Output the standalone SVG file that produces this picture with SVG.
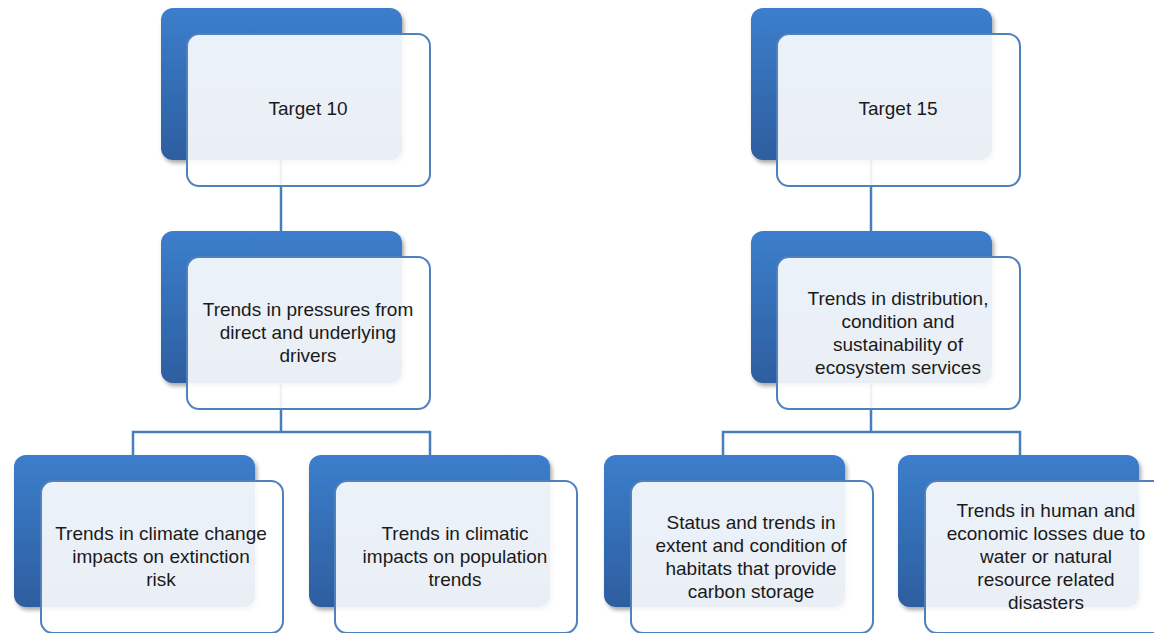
<svg xmlns="http://www.w3.org/2000/svg" width="1154" height="633" viewBox="0 0 1154 633">
<defs>
<linearGradient id="g" x1="0" y1="0" x2="0" y2="1">
<stop offset="0" stop-color="#3C7ECC"/>
<stop offset="1" stop-color="#2D5E9F"/>
</linearGradient>
<filter id="sh" x="-10%" y="-10%" width="125%" height="125%">
<feGaussianBlur in="SourceAlpha" stdDeviation="2"/>
<feOffset dx="2" dy="3"/>
<feComponentTransfer><feFuncA type="linear" slope="0.35"/></feComponentTransfer>
<feMerge><feMergeNode/><feMergeNode in="SourceGraphic"/></feMerge>
</filter>
</defs>
<style>
.back{fill:url(#g);filter:url(#sh)}
.front{fill:#ffffff;fill-opacity:0.9;stroke:#4F81BD;stroke-width:2}
.conn{fill:none;stroke:#4A7EBB;stroke-width:2.5}
text{font-family:"Liberation Sans",Arial,sans-serif;font-size:19px;fill:#1a1a1a;text-anchor:middle}
</style>
<rect width="1154" height="633" fill="#ffffff"/>
<g id="connectors">
<path class="conn" d="M281,160 V432 M133,455 V432 H430 V455"/>
<path class="conn" d="M871,160 V432 M723,455 V432 H1020 V455"/>
</g>
<g id="t10">
<rect class="back" x="161" y="8" width="241" height="152" rx="12"/>
<rect class="front" x="187" y="34" width="243" height="152" rx="12"/>
<text x="308" y="115">Target 10</text>
</g>
<g id="t15">
<rect class="back" x="751" y="8" width="241" height="152" rx="12"/>
<rect class="front" x="777" y="34" width="243" height="152" rx="12"/>
<text x="898" y="115">Target 15</text>
</g>
<g id="pressures">
<rect class="back" x="161" y="231" width="241" height="152" rx="12"/>
<rect class="front" x="187" y="257" width="243" height="152" rx="12"/>
<text x="308" y="316">Trends in pressures from</text>
<text x="308" y="339">direct and underlying</text>
<text x="308" y="362">drivers</text>
</g>
<g id="ecosystem">
<rect class="back" x="751" y="231" width="241" height="152" rx="12"/>
<rect class="front" x="777" y="257" width="243" height="152" rx="12"/>
<text x="898" y="305">Trends in distribution,</text>
<text x="898" y="328">condition and</text>
<text x="898" y="351">sustainability of</text>
<text x="898" y="374">ecosystem services</text>
</g>
<g id="climate">
<rect class="back" x="14" y="455" width="241" height="152" rx="12"/>
<rect class="front" x="41" y="481" width="242" height="152" rx="12"/>
<text x="161" y="540">Trends in climate change</text>
<text x="161" y="563">impacts on extinction</text>
<text x="161" y="586">risk</text>
</g>
<g id="population">
<rect class="back" x="309" y="455" width="241" height="152" rx="12"/>
<rect class="front" x="335" y="481" width="242" height="152" rx="12"/>
<text x="455" y="540">Trends in climatic</text>
<text x="455" y="563">impacts on population</text>
<text x="455" y="586">trends</text>
</g>
<g id="carbon">
<rect class="back" x="604" y="455" width="241" height="152" rx="12"/>
<rect class="front" x="631" y="481" width="242" height="152" rx="12"/>
<text x="751" y="529">Status and trends in</text>
<text x="751" y="552">extent and condition of</text>
<text x="751" y="575">habitats that provide</text>
<text x="751" y="598">carbon storage</text>
</g>
<g id="losses">
<rect class="back" x="898" y="455" width="241" height="152" rx="12"/>
<rect class="front" x="925" y="481" width="242" height="152" rx="12"/>
<text x="1046" y="517">Trends in human and</text>
<text x="1046" y="540">economic losses due to</text>
<text x="1046" y="563">water or natural</text>
<text x="1046" y="586">resource related</text>
<text x="1046" y="609">disasters</text>
</g>
</svg>
